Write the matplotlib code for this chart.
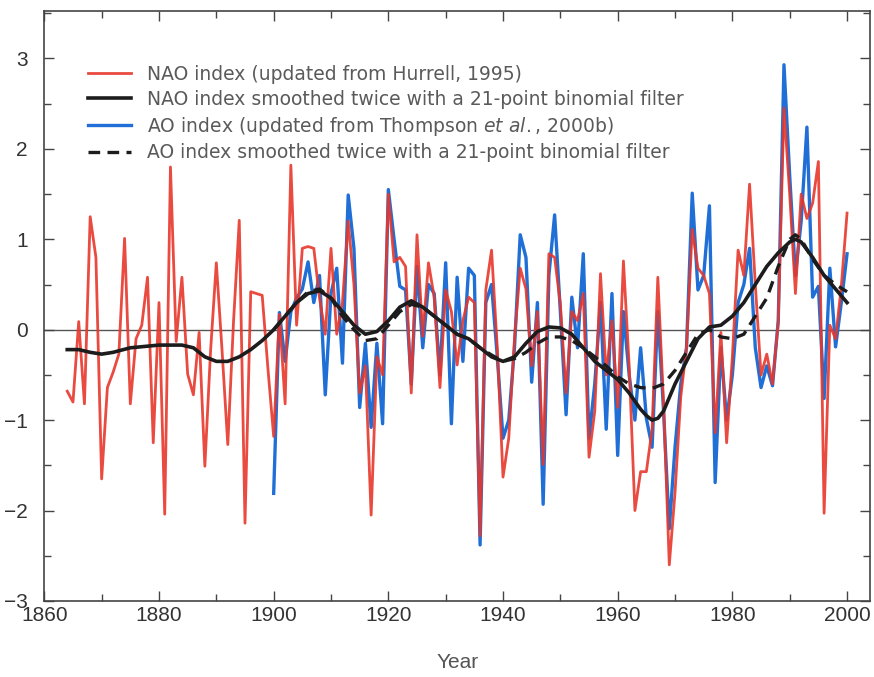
import numpy as np
import matplotlib
matplotlib.use("Agg")
import matplotlib.pyplot as plt
from matplotlib.ticker import MultipleLocator

## winter NAO index, 1864-2000
nao_years = np.arange(1864, 2001)
nao = [-0.68, -0.80, 0.09, -0.82, 1.25, 0.80, -1.65, -0.64, -0.47, -0.27,
       1.01, -0.82, -0.10, 0.05, 0.58, -1.25, 0.30, -2.04, 1.80, -0.13,
       0.58, -0.49, -0.72, -0.03, -1.51, -0.23, 0.74, -0.23, -1.27, 0.09,
       1.21, -2.14, 0.42, 0.40, 0.38, -0.43, -1.18, 0.17, -0.82, 1.82,
       0.05, 0.90, 0.92, 0.90, 0.35, -0.05, 0.90, -0.05, 0.30, 1.20,
       0.50, -0.70, -0.40, -2.05, -0.30, -0.50, 1.50, 0.75, 0.80, 0.70,
       -0.70, 1.05, -0.07, 0.74, 0.36, -0.64, 0.44, 0.20, -0.39, 0.10,
       0.36, 0.30, -2.28, 0.44, 0.88, -0.20, -1.63, -1.20, -0.10, 0.68,
       0.45, -0.40, 0.20, -1.49, 0.84, 0.80, 0.28, -0.70, 0.20, 0.10,
       0.40, -1.41, -0.90, 0.62, -0.50, 0.10, -0.86, 0.76, -0.40, -2.00,
       -1.57, -1.57, -1.10, 0.58, -0.82, -2.60, -1.80, -0.74, -0.20, 1.11,
       0.68, 0.60, 0.40, -1.14, -0.03, -1.25, -0.30, 0.88, 0.60, 1.61,
       0.50, -0.50, -0.27, -0.60, 0.08, 2.45, 1.50, 0.40, 1.50, 1.23,
       1.40, 1.86, -2.03, 0.05, -0.10, 0.48, 1.29]

## AO index, 1900-2000
ao_years = np.arange(1900, 2001)
ao = [-1.81, 0.19, -0.35, 0.20, 0.35, 0.45, 0.75, 0.30, 0.60, -0.72,
      0.40, 0.68, -0.37, 1.49, 0.90, -0.86, -0.15, -1.08, -0.15, -1.04,
      1.55, 1.00, 0.48, 0.44, -0.60, 0.70, -0.20, 0.50, 0.40, -0.50,
      0.74, -1.04, 0.58, -0.35, 0.68, 0.60, -2.38, 0.30, 0.50, -0.30,
      -1.20, -1.00, -0.20, 1.05, 0.80, -0.58, 0.30, -1.93, 0.60, 1.27,
      0.20, -0.94, 0.36, -0.20, 0.84, -1.20, -0.60, 0.30, -1.10, 0.40,
      -1.39, 0.20, -0.50, -1.00, -0.20, -0.98, -1.30, 0.20, -0.90, -2.20,
      -1.30, -0.60, -0.20, 1.51, 0.44, 0.60, 1.37, -1.69, -0.20, -1.00,
      -0.50, 0.30, 0.50, 0.90, -0.20, -0.64, -0.40, -0.62, 0.10, 2.93,
      1.70, 0.60, 1.20, 2.24, 0.36, 0.48, -0.76, 0.68, -0.19, 0.30,
      0.84]

## smoothed curves
nao_s_years = [1864, 1866, 1868, 1870, 1872, 1875, 1880, 1884, 1886, 1888,
               1890, 1892, 1894, 1896, 1898, 1900, 1902, 1904, 1906, 1908,
               1910, 1912, 1914, 1916, 1918, 1920, 1922, 1924, 1926, 1928,
               1930, 1932, 1934, 1936, 1938, 1940, 1942, 1944, 1946, 1948,
               1950, 1952, 1954, 1956, 1958, 1960, 1962, 1964, 1965, 1966,
               1967, 1968, 1970, 1972, 1974, 1976, 1978, 1980, 1982, 1984,
               1986, 1988, 1990, 1991, 1992, 1994, 1996, 1998, 2000]
nao_s = [-0.22, -0.22, -0.25, -0.27, -0.25, -0.20, -0.17, -0.17, -0.20, -0.30,
         -0.35, -0.35, -0.30, -0.22, -0.12, 0.00, 0.15, 0.30, 0.40, 0.43,
         0.35, 0.20, 0.05, -0.05, -0.02, 0.10, 0.25, 0.32, 0.25, 0.15,
         0.05, -0.05, -0.10, -0.20, -0.30, -0.35, -0.30, -0.15, -0.02, 0.03,
         0.02, -0.05, -0.20, -0.35, -0.45, -0.55, -0.70, -0.88, -0.95, -1.00,
         -0.98, -0.90, -0.60, -0.35, -0.10, 0.03, 0.05, 0.15, 0.30, 0.50,
         0.70, 0.85, 0.97, 1.00, 0.97, 0.80, 0.60, 0.45, 0.30]

ao_s_years = [1900, 1902, 1904, 1906, 1908, 1910, 1912, 1914, 1916, 1918,
              1920, 1922, 1924, 1926, 1928, 1930, 1932, 1934, 1936, 1938,
              1940, 1942, 1944, 1946, 1948, 1950, 1952, 1954, 1956, 1958,
              1960, 1962, 1964, 1966, 1968, 1970, 1972, 1974, 1976, 1978,
              1980, 1982, 1984, 1986, 1988, 1990, 1991, 1992, 1994, 1996,
              1998, 2000]
ao_s = [0.00, 0.15, 0.30, 0.42, 0.45, 0.35, 0.15, 0.00, -0.12, -0.10,
        0.05, 0.20, 0.28, 0.25, 0.15, 0.05, -0.05, -0.10, -0.20, -0.28,
        -0.35, -0.32, -0.25, -0.15, -0.08, -0.08, -0.12, -0.20, -0.30, -0.40,
        -0.52, -0.60, -0.64, -0.65, -0.60, -0.45, -0.25, -0.05, 0.00, -0.08,
        -0.10, -0.05, 0.15, 0.35, 0.70, 1.00, 1.05, 1.00, 0.78, 0.60,
        0.50, 0.42]

labels = ["NAO index (updated from Hurrell, 1995)",
          "NAO index smoothed twice with a 21-point binomial filter",
          "AO index (updated from Thompson $\\it{et\\ al.}$, 2000b)",
          "AO index smoothed twice with a 21-point binomial filter"]

plt.rcParams['font.family'] = ['Liberation Sans', 'DejaVu Sans']
plt.rcParams['mathtext.fontset'] = 'custom'
plt.rcParams['mathtext.it'] = 'DejaVu Sans:italic'
plt.rcParams['mathtext.rm'] = 'DejaVu Sans'

red = '#e8372b'
blue = '#1f6fd6'
dark = '#1c1c1c'

fig = plt.figure(figsize=(8.74, 6.77), dpi=100)
ax = fig.add_axes([0.0507, 0.1123, 0.9447, 0.8708])

ax.axhline(0, color='#555555', lw=1.0, zorder=1)

l_ao, = ax.plot(ao_years, ao, color=blue, lw=2.4, zorder=2)
l_nao, = ax.plot(nao_years, nao, color=red, lw=2.0, alpha=0.9, zorder=3)
l_ns, = ax.plot(nao_s_years, nao_s, color=dark, lw=2.6, zorder=4)
l_as, = ax.plot(ao_s_years, ao_s, color=dark, lw=2.4, dashes=(3.5, 2.2), zorder=4)

ax.set_xlim(1860, 2004)
ax.set_ylim(-3, 3.52)
ax.xaxis.set_major_locator(MultipleLocator(20))
ax.xaxis.set_minor_locator(MultipleLocator(10))
ax.yaxis.set_major_locator(MultipleLocator(1))
ax.yaxis.set_minor_locator(MultipleLocator(0.5))
ax.tick_params(which='both', direction='in', top=True, right=True,
               colors='#444444', labelcolor='#333333', labelsize=15)
ax.tick_params(which='major', length=7, width=1)
ax.tick_params(which='minor', length=5, width=1)
ax.tick_params(axis='y', pad=12)
ax.set_yticks([-3, -2, -1, 0, 1, 2, 3])
ax.set_yticklabels(['\u22123', '\u22122', '\u22121', '0', '1', '2', '3'])
for s in ax.spines.values():
    s.set_color('#444444')
    s.set_linewidth(1.2)

ax.set_xlabel('Year', fontsize=15, color='#555555', labelpad=20)

leg = ax.legend([l_nao, l_ns, l_ao, l_as], labels, loc='upper left',
                bbox_to_anchor=(0.0438, 0.922), frameon=False,
                prop={'family': 'DejaVu Sans', 'size': 13.5},
                handlelength=2.3, handletextpad=0.85, labelspacing=0.31,
                borderaxespad=0)
for t in leg.get_texts():
    t.set_color('#5a5a5a')

fig.savefig('out.png', dpi=100)
